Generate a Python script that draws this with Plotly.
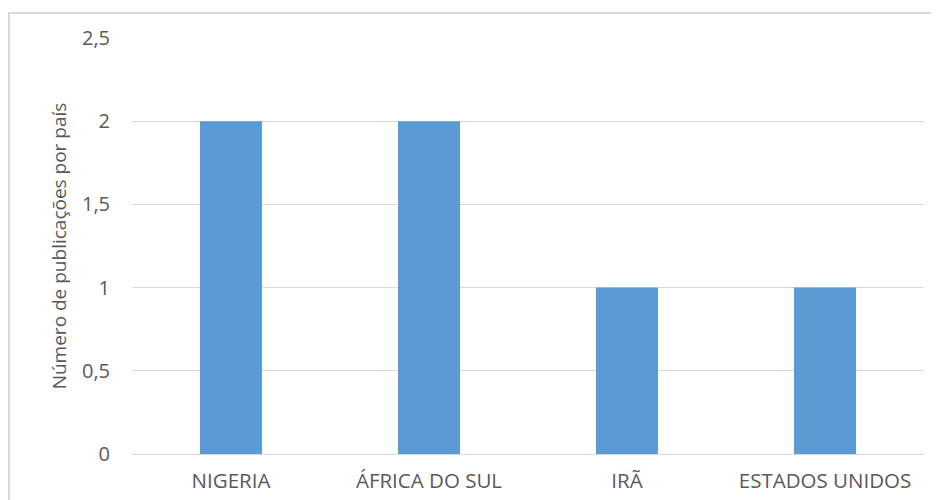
import plotly.graph_objects as go

categories = ["NIGERIA", "ÁFRICA DO SUL", "IRÃ", "ESTADOS UNIDOS"]
values = [2, 2, 1, 1]
y_ticks = [0, 0.5, 1, 1.5, 2, 2.5]
y_tick_labels = ["0", "0,5", "1", "1,5", "2", "2,5"]

fig = go.Figure()
fig.add_trace(go.Bar(x=categories, y=values, marker=dict(color="#5B9BD5", line=dict(width=0))))

# page body has an 8px offset; plot area in figure coords: x 124..916, y 30..446
L, R, T, B = 124, 916, 30, 446
W, H = R - L, B - T
font_family = "Open Sans, sans-serif"
fig.update_layout(
    width=939, height=500,
    margin=dict(l=L, r=939 - R, t=T, b=500 - B),
    paper_bgcolor="white", plot_bgcolor="white",
    bargap=0.687,
    showlegend=False,
    font=dict(family=font_family, color="#595959", size=17),
    xaxis=dict(showgrid=False, showline=True, linecolor="#d9d9d9", linewidth=1,
               ticks="", ticklabelstandoff=8, tickfont=dict(size=20.5, color="#595959"), fixedrange=True),
    yaxis=dict(range=[0, 2.5], tickvals=y_ticks, ticktext=y_tick_labels,
               showgrid=True, gridcolor="#d9d9d9", gridwidth=1, zeroline=False,
               showline=False, ticks="", ticklabelstandoff=21,
               tickfont=dict(size=20, color="#595959"),
               title=dict(text="Número de publicações por país", font=dict(size=19, color="#595959"), standoff=10)),
    shapes=[dict(type="rect", xref="paper", yref="paper",
                 x0=(1 - L) / W, x1=(940 - L) / W,
                 y0=(B - 520) / H, y1=(B - 5) / H,
                 line=dict(color="#d9d9d9", width=2), fillcolor="rgba(0,0,0,0)", layer="below")],
)
fig.write_html("out.html")
